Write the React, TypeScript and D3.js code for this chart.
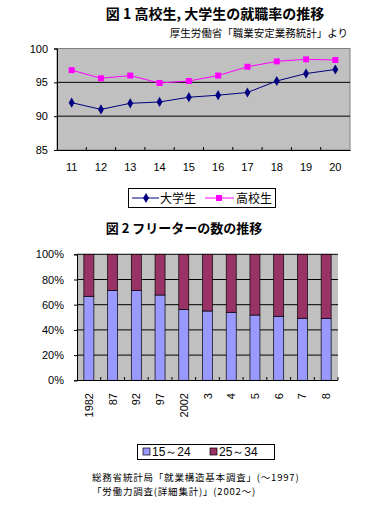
import React, { useEffect, useRef } from 'react';
import * as d3 from 'd3';

// chart 1: employment rate (%)
const years1 = ['11', '12', '13', '14', '15', '16', '17', '18', '19', '20'];
const univ = [92.0, 91.0, 91.9, 92.1, 92.8, 93.1, 93.5, 95.2, 96.3, 96.9];
const high = [96.8, 95.6, 96.0, 94.9, 95.2, 96.0, 97.3, 98.1, 98.4, 98.3];
const ticks1 = [85, 90, 95, 100];

// chart 2: freeter share by age group (%)
const years2 = ['1982', '87', '92', '97', '2002', '3', '4', '5', '6', '7', '8'];
const young = [66.7, 71.4, 71.2, 67.7, 56.3, 55.0, 54.0, 51.8, 50.8, 49.3, 49.2];
const older = young.map(v => 100 - v);
const ticks2 = [0, 20, 40, 60, 80, 100];

const JP = '"Noto Sans CJK JP", sans-serif';
const NUM = '"Liberation Sans", Arial, sans-serif';

const App = () => {
    const ref = useRef<SVGSVGElement>(null);

    useEffect(() => {
        const svg = d3.select(ref.current);
        svg.selectAll('*').remove();

        // ---------- titles ----------
        svg.append('text').attr('x', 215).attr('y', 19).attr('text-anchor', 'middle')
            .attr('font-family', JP).attr('font-weight', 'bold').attr('font-size', 14)
            .text('図 1 高校生, 大学生の就職率の推移');
        svg.append('text').attr('x', 348).attr('y', 37).attr('text-anchor', 'end')
            .attr('font-family', JP).attr('font-size', 10.5)
            .text('厚生労働省「職業安定業務統計」より');

        // ---------- chart 1 ----------
        const x1 = d3.scaleBand().domain(years1).range([57, 350]);
        const y1 = d3.scaleLinear().domain([85, 100]).range([150, 48.5]);

        svg.append('rect').attr('x', 57).attr('y', y1(100)).attr('width', 293)
            .attr('height', y1(85) - y1(100)).attr('fill', '#c0c0c0').attr('stroke', '#808080');

        svg.append('g').selectAll('line').data([90, 95]).enter().append('line')
            .attr('x1', 57).attr('x2', 350).attr('y1', d => y1(d)).attr('y2', d => y1(d))
            .attr('stroke', '#000');

        const ax1y = svg.append('g').attr('transform', 'translate(57,0)')
            .call(d3.axisLeft(y1).tickValues(ticks1).tickSize(3).tickPadding(6));
        ax1y.select('.domain').attr('stroke', '#000');
        ax1y.selectAll('text').attr('font-family', NUM).attr('font-size', 11);

        const ax1x = svg.append('g').attr('transform', 'translate(0,150)')
            .call(d3.axisBottom(x1).tickSize(0).tickPadding(13));
        ax1x.select('.domain').attr('stroke', '#000');
        ax1x.selectAll('text').attr('font-family', NUM).attr('font-size', 11);
        svg.append('g').selectAll('line').data(years1.slice(1)).enter().append('line')
            .attr('x1', d => x1(d)!).attr('x2', d => x1(d)!).attr('y1', 150).attr('y2', 147)
            .attr('stroke', '#000');

        const line1 = d3.line<number>()
            .x((_, i) => x1(years1[i])! + x1.bandwidth() / 2)
            .y(d => y1(d));

        svg.append('path').datum(high).attr('d', line1).attr('fill', 'none').attr('stroke', '#ff00ff');
        svg.append('path').datum(univ).attr('d', line1).attr('fill', 'none').attr('stroke', '#000080');

        const sq = d3.symbol().type(d3.symbolSquare).size(36);
        const dm = d3.symbol().type(d3.symbolDiamond).size(30);
        svg.append('g').selectAll('path').data(high).enter().append('path')
            .attr('d', sq)
            .attr('transform', (d, i) => `translate(${x1(years1[i])! + x1.bandwidth() / 2},${y1(d)})`)
            .attr('fill', '#ff00ff');
        svg.append('g').selectAll('path').data(univ).enter().append('path')
            .attr('d', dm)
            .attr('transform', (d, i) => `translate(${x1(years1[i])! + x1.bandwidth() / 2},${y1(d)})`)
            .attr('fill', '#000080');

        // legend 1
        const lg1 = svg.append('g');
        lg1.append('rect').attr('x', 128.5).attr('y', 188.5).attr('width', 147).attr('height', 19)
            .attr('fill', '#fff').attr('stroke', '#000');
        lg1.append('line').attr('x1', 132).attr('x2', 159).attr('y1', 198).attr('y2', 198).attr('stroke', '#000080');
        lg1.append('path').attr('d', dm).attr('transform', 'translate(146,198)').attr('fill', '#000080');
        lg1.append('text').attr('x', 160).attr('y', 202.5).attr('font-family', JP).attr('font-size', 12).text('大学生');
        lg1.append('line').attr('x1', 205).attr('x2', 234).attr('y1', 198).attr('y2', 198).attr('stroke', '#ff00ff');
        lg1.append('path').attr('d', sq).attr('transform', 'translate(219,198)').attr('fill', '#ff00ff');
        lg1.append('text').attr('x', 236).attr('y', 202.5).attr('font-family', JP).attr('font-size', 12).text('高校生');

        // ---------- chart 2 ----------
        svg.append('text').attr('x', 184).attr('y', 233).attr('text-anchor', 'middle')
            .attr('font-family', JP).attr('font-weight', 'bold').attr('font-size', 13)
            .text('図 2 フリーターの数の推移');

        const x2 = d3.scaleBand().domain(years2).range([77, 338]);
        const y2 = d3.scaleLinear().domain([0, 100]).range([380.3, 254.3]);

        svg.append('rect').attr('x', 77).attr('y', y2(100)).attr('width', 261)
            .attr('height', y2(0) - y2(100)).attr('fill', '#c0c0c0');

        svg.append('g').selectAll('line').data([20, 40, 60, 80, 100]).enter().append('line')
            .attr('x1', 77).attr('x2', 338).attr('y1', d => y2(d)).attr('y2', d => y2(d))
            .attr('stroke', '#000');

        const barW = 10;
        const cx = (d: string) => x2(d)! + x2.bandwidth() / 2;
        svg.append('g').selectAll('rect').data(young).enter().append('rect')
            .attr('x', (_, i) => cx(years2[i]) - barW / 2).attr('width', barW)
            .attr('y', d => y2(d)).attr('height', d => y2(0) - y2(d))
            .attr('fill', '#9999ff').attr('stroke', '#000').attr('stroke-width', 0.7);
        svg.append('g').selectAll('rect').data(older).enter().append('rect')
            .attr('x', (_, i) => cx(years2[i]) - barW / 2).attr('width', barW)
            .attr('y', (d, i) => y2(young[i] + d)).attr('height', (d, i) => y2(young[i]) - y2(young[i] + d))
            .attr('fill', '#993366').attr('stroke', '#000').attr('stroke-width', 0.7);

        const ax2y = svg.append('g').attr('transform', 'translate(77,0)')
            .call(d3.axisLeft(y2).tickValues(ticks2).tickFormat(d => `${d}%`).tickSize(3).tickPadding(10));
        ax2y.select('.domain').attr('stroke', '#000');
        ax2y.selectAll('text').attr('font-family', NUM).attr('font-size', 11);

        svg.append('line').attr('x1', 77).attr('x2', 338).attr('y1', 380.5).attr('y2', 380.5).attr('stroke', '#000');
        svg.append('g').selectAll('line').data(years2.slice(1).concat(['end'])).enter().append('line')
            .attr('x1', (d, i) => (i < years2.length - 1 ? x2(d)! : 338))
            .attr('x2', (d, i) => (i < years2.length - 1 ? x2(d)! : 338))
            .attr('y1', 380).attr('y2', 377).attr('stroke', '#000');

        svg.append('g').selectAll('text').data(years2).enter().append('text')
            .attr('transform', d => `translate(${cx(d) + 4},${393}) rotate(-90)`)
            .attr('text-anchor', 'end').attr('font-family', NUM).attr('font-size', 11)
            .text(d => d);

        // legend 2
        const lg2 = svg.append('g');
        lg2.append('rect').attr('x', 137.5).attr('y', 444.5).attr('width', 137).attr('height', 15)
            .attr('fill', '#fff').attr('stroke', '#000');
        lg2.append('rect').attr('x', 143).attr('y', 448).attr('width', 7).attr('height', 7)
            .attr('fill', '#9999ff').attr('stroke', '#000').attr('stroke-width', 0.7);
        lg2.append('text').attr('x', 152).attr('y', 456).attr('font-family', NUM).attr('font-size', 12).text('15～24');
        lg2.append('rect').attr('x', 210).attr('y', 448).attr('width', 7).attr('height', 7)
            .attr('fill', '#993366').attr('stroke', '#000').attr('stroke-width', 0.7);
        lg2.append('text').attr('x', 219).attr('y', 456).attr('font-family', NUM).attr('font-size', 12).text('25～34');

        // source
        svg.append('text').attr('x', 92).attr('y', 481).attr('font-family', JP).attr('font-size', 9.5)
            .attr('letter-spacing', 0.8)
            .text('総務省統計局「就業構造基本調査」(～1997)');
        svg.append('text').attr('x', 92).attr('y', 495).attr('font-family', JP).attr('font-size', 9.5)
            .attr('letter-spacing', 0.8)
            .text('「労働力調査(詳細集計)」(2002～)');
    }, []);

    return (
        <svg ref={ref} width={365} height={505}
            style={{ position: 'absolute', left: 0, top: 0, background: '#fff' }} />
    );
};

export default App;
